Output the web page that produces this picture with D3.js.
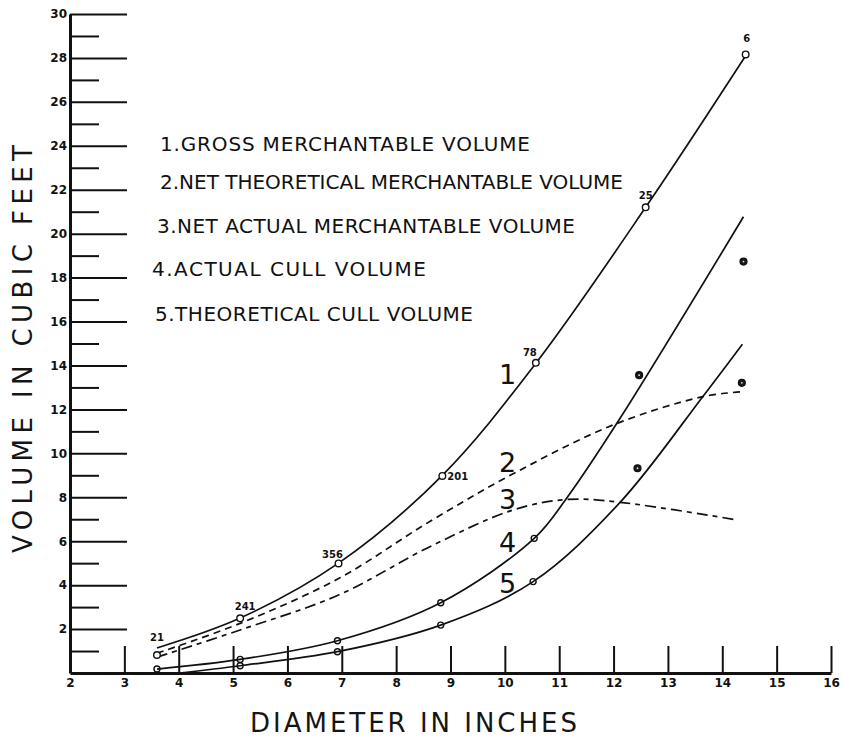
<!DOCTYPE html>
<html>
<head>
<meta charset="utf-8">
<script src="https://cdn.jsdelivr.net/npm/d3@7"></script>
<style>
  body { margin: 0; background: #fff; }
  svg { display: block; background: #fff; }
  .axis path, .axis line { stroke: #111; }
  .axis text { font-family: "DejaVu Sans", sans-serif; font-weight: bold; font-size: 12px; fill: #111; }
  .title { font-family: "DejaVu Sans", sans-serif; font-size: 26px; fill: #151515; }
  .legend { font-family: "DejaVu Sans", sans-serif; font-size: 20px; fill: #111; }
  .count { font-family: "DejaVu Sans", sans-serif; font-size: 10px; font-weight: bold; fill: #111; }
  .curve-no { font-family: "DejaVu Sans", sans-serif; font-size: 27px; fill: #111; }
</style>
</head>
<body>
<figure id="chart" style="margin:0"></figure>
<script>
// tick values
const xTicks = [2, 3, 4, 5, 6, 7, 8, 9, 10, 11, 12, 13, 14, 15, 16];
const yMajorTicks = [2, 4, 6, 8, 10, 12, 14, 16, 18, 20, 22, 24, 26, 28, 30];
const yMinorTicks = [1, 3, 5, 7, 9, 11, 13, 15, 17, 19, 21, 23, 25, 27, 29];

// fitted curves, [diameter, cubic feet]
const curveGross     = [[3.6, 1.14], [5.13, 2.5], [6.94, 5.0], [8.85, 9.0], [10.57, 14.1], [12.59, 21.2], [14.43, 28.1]];
const curveNetTheo   = [[3.6, 0.9], [5.13, 2.26], [6.94, 4.3], [8.62, 6.9], [10.22, 9.16], [12.0, 11.3], [13.64, 12.58], [14.36, 12.8]];
const curveNetActual = [[3.6, 0.72], [5.13, 1.96], [6.94, 3.55], [8.62, 5.75], [10.15, 7.42], [11.14, 7.9], [12.12, 7.77], [14.29, 6.96]];
const curveActCull   = [[3.6, 0.18], [5.13, 0.62], [6.92, 1.47], [8.82, 3.2], [10.54, 6.13], [11.12, 7.9], [12.09, 11.48], [14.39, 20.77]];
const curveTheoCull  = [[4.02, 0.0], [5.13, 0.33], [6.92, 0.97], [8.82, 2.18], [10.52, 4.16], [12.12, 7.77], [13.64, 12.58], [14.37, 14.97]];

// observed points
const grossX      = [3.6, 5.13, 6.94, 8.85, 10.57, 12.59, 14.43];
const grossY      = [0.82, 2.49, 4.99, 8.97, 14.12, 21.2, 28.16];
const grossCounts = ["21", "241", "356", "201", "78", "25", "6"];
const actCullX    = [3.6, 5.13, 6.92, 8.82, 10.54, 12.47, 14.39];
const actCullY    = [0.18, 0.62, 1.47, 3.2, 6.13, 13.56, 18.73];
const theoCullX   = [5.13, 6.92, 8.82, 10.52, 12.44, 14.36];
const theoCullY   = [0.33, 0.97, 2.18, 4.16, 9.32, 13.21];
const filledFrom  = 12; // points beyond this diameter are drawn solid

// labels
const legendLabels = [
  "1.GROSS  MERCHANTABLE  VOLUME",
  "2.NET  THEORETICAL  MERCHANTABLE  VOLUME",
  "3.NET  ACTUAL  MERCHANTABLE  VOLUME",
  "4.ACTUAL   CULL   VOLUME",
  "5.THEORETICAL   CULL   VOLUME"
];
const curveNumbers = ["1", "2", "3", "4", "5"];
const curveNumberX = 10.05;
const curveNumberY = [13.6, 9.6, 7.9, 5.95, 4.1];
const xTitle = "DIAMETER   IN   INCHES";
const yTitle = "VOLUME   IN   CUBIC   FEET";

const WIDTH = 844;
const HEIGHT = 739;

const svg = d3.select("figure#chart")
  .append("svg")
  .attr("width", WIDTH)
  .attr("height", HEIGHT);

// scales
const x = d3.scaleLinear()
  .domain([2, 16])
  .range([70, 831]);

const y = d3.scaleLinear()
  .domain([0, 30])
  .range([673, 14]);

// Add X axis (ticks point up, labels below)
const xAxis = svg.append("g")
  .attr("class", "axis")
  .attr("transform", "translate(0," + y(0) + ")")
  .call(d3.axisBottom(x)
    .tickValues(xTicks)
    .tickSizeInner(-27)
    .tickSizeOuter(0)
    .tickPadding(5)
    .tickFormat(d3.format("d")));
xAxis.select(".domain").attr("stroke-width", 3);
xAxis.selectAll(".tick line").attr("stroke-width", 2);

// Add Y axis, long ticks on the even values
const yAxis = svg.append("g")
  .attr("class", "axis")
  .attr("transform", "translate(" + x(2) + ",0)")
  .call(d3.axisLeft(y)
    .tickValues(yMajorTicks)
    .tickSizeInner(-57)
    .tickSizeOuter(0)
    .tickPadding(3)
    .tickFormat(d3.format("d")));
yAxis.select(".domain").attr("stroke-width", 3);
yAxis.selectAll(".tick line").attr("stroke-width", 2);

// short ticks on the odd values
const yMinor = svg.append("g")
  .attr("class", "axis")
  .attr("transform", "translate(" + x(2) + ",0)")
  .call(d3.axisLeft(y)
    .tickValues(yMinorTicks)
    .tickSizeInner(-29)
    .tickSizeOuter(0)
    .tickFormat(""));
yMinor.select(".domain").remove();
yMinor.selectAll(".tick line").attr("stroke-width", 2);

// axis titles
svg.append("text")
  .attr("class", "title")
  .attr("x", 250)
  .attr("y", 732)
  .attr("textLength", 327)
  .attr("lengthAdjust", "spacing")
  .text(xTitle);

svg.append("text")
  .attr("class", "title")
  .attr("transform", "translate(32,553) rotate(-90)")
  .attr("textLength", 408)
  .attr("lengthAdjust", "spacing")
  .text(yTitle);

// legend
const legendX = [160, 160, 157, 152, 155];
const legendBase = [151, 189, 233, 276, 321];
const legendLen = [370, 463, 418, 274, 318];
svg.append("g")
  .selectAll("text")
  .data(legendLabels)
  .enter()
  .append("text")
  .attr("class", "legend")
  .attr("x", (d, i) => legendX[i])
  .attr("y", (d, i) => legendBase[i])
  .attr("textLength", (d, i) => legendLen[i])
  .attr("lengthAdjust", "spacing")
  .text(d => d);

// curves
const line = d3.line()
  .x(d => x(d[0]))
  .y(d => y(d[1]))
  .curve(d3.curveCatmullRom.alpha(0.5));

const curves = [
  { data: curveGross, dash: null },
  { data: curveNetTheo, dash: "7,5" },
  { data: curveNetActual, dash: "11,5,5,5" },
  { data: curveActCull, dash: null },
  { data: curveTheoCull, dash: null }
];

svg.append("g")
  .selectAll("path")
  .data(curves)
  .enter()
  .append("path")
  .attr("fill", "none")
  .attr("stroke", "#111")
  .attr("stroke-width", 1.7)
  .attr("stroke-dasharray", d => d.dash)
  .attr("d", d => line(d.data));

// gross volume points with tree counts
const grossPts = grossX.map((d, i) => ({ x: d, y: grossY[i], n: grossCounts[i] }));
svg.append("g")
  .selectAll("circle")
  .data(grossPts)
  .enter()
  .append("circle")
  .attr("cx", d => x(d.x))
  .attr("cy", d => y(d.y))
  .attr("r", 3.3)
  .attr("fill", "#fff")
  .attr("stroke", "#111")
  .attr("stroke-width", 1.4);

const countDx = [0, 5, -6, 5, -6, 0, 1];
const countDy = [-14, -8, -5, 4, -7, -8, -12];
const countAnchor = ["middle", "middle", "middle", "start", "middle", "middle", "middle"];
svg.append("g")
  .selectAll("text")
  .data(grossPts)
  .enter()
  .append("text")
  .attr("class", "count")
  .attr("x", (d, i) => x(d.x) + countDx[i])
  .attr("y", (d, i) => y(d.y) + countDy[i])
  .attr("text-anchor", (d, i) => countAnchor[i])
  .text(d => d.n);

// cull points
const cullPts = actCullX.map((d, i) => ({ x: d, y: actCullY[i] }))
  .concat(theoCullX.map((d, i) => ({ x: d, y: theoCullY[i] })));

const cull = svg.append("g")
  .selectAll("g")
  .data(cullPts)
  .enter()
  .append("g")
  .attr("transform", d => "translate(" + x(d.x) + "," + y(d.y) + ")");

cull.append("circle")
  .attr("r", d => d.x > filledFrom ? 3.4 : 3)
  .attr("fill", d => d.x > filledFrom ? "#1a1a1a" : "none")
  .attr("stroke", "#111")
  .attr("stroke-width", 1.4);

cull.filter(d => d.x > filledFrom)
  .append("circle")
  .attr("r", 0.9)
  .attr("fill", "#ddd");

// curve numbers
svg.append("g")
  .selectAll("text")
  .data(curveNumbers)
  .enter()
  .append("text")
  .attr("class", "curve-no")
  .attr("x", x(curveNumberX))
  .attr("y", (d, i) => y(curveNumberY[i]))
  .attr("text-anchor", "middle")
  .attr("dy", "0.36em")
  .text(d => d);
</script>
</body>
</html>
